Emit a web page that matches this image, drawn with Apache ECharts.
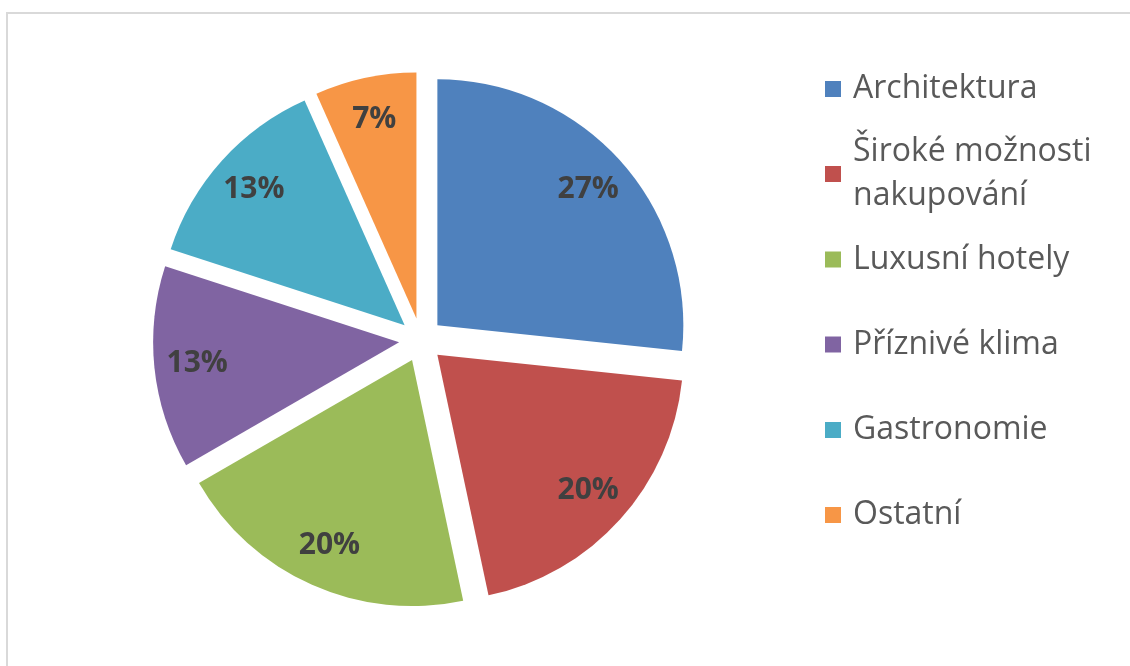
<!DOCTYPE html>
<html>
<head>
<meta charset="utf-8">
<script src="https://cdn.jsdelivr.net/npm/echarts@6/dist/echarts.min.js"></script>
<style>
    html, body {
        margin: 0;
        padding: 0;
        background: #fff;
    }
    .frame {
        position: absolute;
        left: 6px;
        top: 12px;
        width: 1200px;
        height: 700px;
        border-top: 2px solid #d9d9d9;
        border-left: 2px solid #d9d9d9;
    }
    .echart {
        position: absolute;
        left: 0;
        top: 0;
        width: 1130px;
        height: 666px;
    }
</style>
</head>
<body>
<div class="frame"></div>
<div class="echart" id="echart"></div>
<script>
// data
const categories = ['Architektura', 'Široké možnosti nakupování', 'Luxusní hotely', 'Příznivé klima', 'Gastronomie', 'Ostatní']
const counts = [4, 3, 3, 2, 2, 1]
const colors = ['#4F81BD', '#C0504D', '#9BBB59', '#8064A2', '#4BACC6', '#F79646']

const font = "'Open Sans', 'Noto Sans', sans-serif"
const legendTops = [89, 174, 259.5, 344.5, 430, 515] // icon centres
const LH = 44
const CENTER = [421, 340]
const R = 246

const pieData = categories.map((name, i) => ({
    name: name,
    value: counts[i],
    selected: true,
    itemStyle: { color: colors[i] }
}))

// one legend per item so the 2-line entry keeps the spacing
const legends = categories.map((name, i) => {
    const twoLine = name.indexOf('nakupování') > -1
    return {
        orient: 'vertical',
        left: 825,
        top: legendTops[i] - (twoLine ? LH * 1.5 : LH / 2),
        padding: 0,
        icon: 'rect',
        itemWidth: 16,
        itemHeight: 16,
        selectedMode: false,
        data: [name],
        formatter: n => n.replace('možnosti ', 'možnosti\n'),
        textStyle: {
            fontFamily: font,
            fontSize: 32,
            color: '#595959',
            lineHeight: LH,
            padding: twoLine ? [LH, 0, 0, 7] : [0, 0, 0, 7]
        }
    }
})

const option = {
    animation: false,
    legend: legends,
    series: [
        {
            type: 'pie',
            center: CENTER,
            radius: R,
            selectedMode: 'multiple',
            selectedOffset: 22,
            percentPrecision: 0,
            emphasis: { disabled: true },
            label: { show: false },
            labelLine: { show: false },
            data: pieData
        },
        {
            // label ring, labels sit at ~0.8 of the radius
            type: 'pie',
            center: CENTER,
            radius: [154, R],
            selectedMode: 'multiple',
            selectedOffset: 22,
            percentPrecision: 0,
            silent: true,
            emphasis: { disabled: true },
            itemStyle: { color: 'rgba(0,0,0,0)' },
            label: {
                show: true,
                position: 'inside',
                formatter: '{d}%',
                fontFamily: font,
                fontWeight: 'bold',
                fontSize: 30,
                color: '#404040'
            },
            labelLine: { show: false },
            data: categories.map((name, i) => ({ name: name, value: counts[i], selected: true }))
        }
    ]
}

const myChart = echarts.init(document.getElementById('echart'))
myChart.setOption(option)
</script>
</body>
</html>
